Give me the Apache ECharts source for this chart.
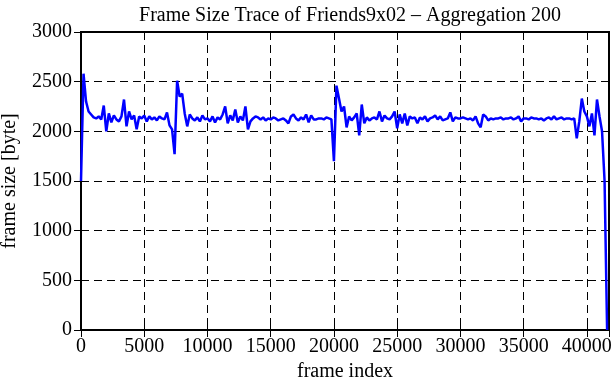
<!DOCTYPE html>
<html>
<head>
<meta charset="utf-8">
<script src="https://cdn.jsdelivr.net/npm/echarts@6/dist/echarts.min.js"></script>
<style>
  html, body { margin: 0; padding: 0; background: #fff; }
  #chart { width: 611px; height: 380px; }
</style>
</head>
<body>
<div id="chart"></div>
<script>
// aggregated frame sizes (bytes), one value per 200 frames
var frameStep = 200;
var frameSizes = [
  1500, 2580, 2300, 2200, 2170, 2140, 2130, 2150, 2120, 2260,
  2000, 2180, 2090, 2160, 2120, 2100, 2150, 2320, 2050, 2200,
  2120, 2160, 2020, 2150, 2130, 2160, 2100, 2150, 2120, 2140,
  2110, 2150, 2130, 2120, 2190, 2060, 2020, 1770, 2510, 2350,
  2380, 2180, 2050, 2170, 2130, 2110, 2140, 2100, 2160, 2120,
  2130, 2100, 2150, 2090, 2140, 2120, 2170, 2250, 2080, 2160,
  2110, 2220, 2090, 2150, 2110, 2250, 2020, 2100, 2130, 2150,
  2140, 2120, 2140, 2110, 2130, 2120, 2140, 2130, 2110, 2120,
  2130, 2110, 2080, 2150, 2170, 2130, 2110, 2140, 2120, 2170,
  2090, 2160, 2120, 2120, 2130, 2130, 2120, 2140, 2130, 2120,
  1700, 2460, 2330, 2200, 2250, 2040, 2150, 2110, 2140, 2180,
  1960, 2270, 2080, 2140, 2110, 2130, 2140, 2120, 2200, 2100,
  2160, 2130, 2120, 2150, 2200, 2030, 2170, 2080, 2180, 2060,
  2150, 2130, 2140, 2080, 2140, 2120, 2150, 2100, 2130, 2140,
  2160, 2120, 2150, 2110, 2120, 2130, 2190, 2100, 2140, 2130,
  2130, 2140, 2130, 2120, 2130, 2110, 2150, 2080, 2040, 2170,
  2150, 2110, 2130, 2120, 2130, 2130, 2140, 2120, 2130, 2130,
  2140, 2120, 2130, 2150, 2100, 2130, 2130, 2120, 2140, 2130,
  2130, 2120, 2130, 2110, 2130, 2140, 2120, 2150, 2120, 2130,
  2140, 2120, 2130, 2130, 2120, 2130, 1930, 2100, 2330, 2200,
  2150, 2050, 2180, 1960, 2320, 2150, 2000, 1500, 0
];
var xTicks = [0, 5000, 10000, 15000, 20000, 25000, 30000, 35000, 40000];
var yTicks = [0, 500, 1000, 1500, 2000, 2500, 3000];

var chart = echarts.init(document.getElementById('chart'));

var points = [];
for (var i = 0; i < frameSizes.length; i++) {
  points.push([i * frameStep, frameSizes[i]]);
}

var serif = '"Liberation Serif", "DejaVu Serif", serif';
var dash = { color: '#000', width: 1, type: [8, 5] };

function plain(v) { return String(v); }

function xAxisDef(pos, labels) {
  return {
    type: 'value', position: pos, min: 0, max: 41750, interval: 5000,
    axisLine: { show: false },
    axisTick: { show: true, inside: true, length: 7, lineStyle: { color: '#000', width: 1 } },
    axisLabel: {
      show: labels, color: '#000', fontFamily: serif, fontSize: 20, margin: 7,
      formatter: plain
    },
    splitLine: { show: labels, lineStyle: dash },
    name: labels ? 'frame index' : '', nameLocation: 'middle', nameGap: 30,
    nameTextStyle: { color: '#000', fontFamily: serif, fontSize: 20 }
  };
}

function yAxisDef(pos, labels) {
  return {
    type: 'value', position: pos, min: 0, max: 3000, interval: 500,
    axisLine: { show: false },
    axisTick: { show: true, inside: true, length: 7, lineStyle: { color: '#000', width: 1 } },
    axisLabel: {
      show: labels, color: '#000', fontFamily: serif, fontSize: 20, margin: 9,
      formatter: plain
    },
    splitLine: { show: labels, lineStyle: dash },
    name: labels ? 'frame size [byte]' : '', nameLocation: 'middle', nameGap: 61,
    nameTextStyle: { color: '#000', fontFamily: serif, fontSize: 20 }
  };
}

chart.setOption({
  animation: false,
  title: {
    text: 'Frame Size Trace of Friends9x02 \u2013 Aggregation 200',
    left: 345, top: 1, textAlign: 'center',
    textStyle: { color: '#000', fontFamily: serif, fontSize: 20, fontWeight: 'normal' }
  },
  grid: {
    left: 81, right: 2, top: 32, bottom: 50,
    containLabel: false, outerBoundsMode: 'none',
    show: true, borderColor: '#000', borderWidth: 2, backgroundColor: 'transparent'
  },
  xAxis: [xAxisDef('bottom', true), xAxisDef('top', false)],
  yAxis: [yAxisDef('left', true), yAxisDef('right', false)],
  series: [{
    type: 'line',
    data: points,
    showSymbol: false,
    lineStyle: { color: '#0000ff', width: 2.5 },
    itemStyle: { color: '#0000ff' },
    z: 3
  }]
});
</script>
</body>
</html>
